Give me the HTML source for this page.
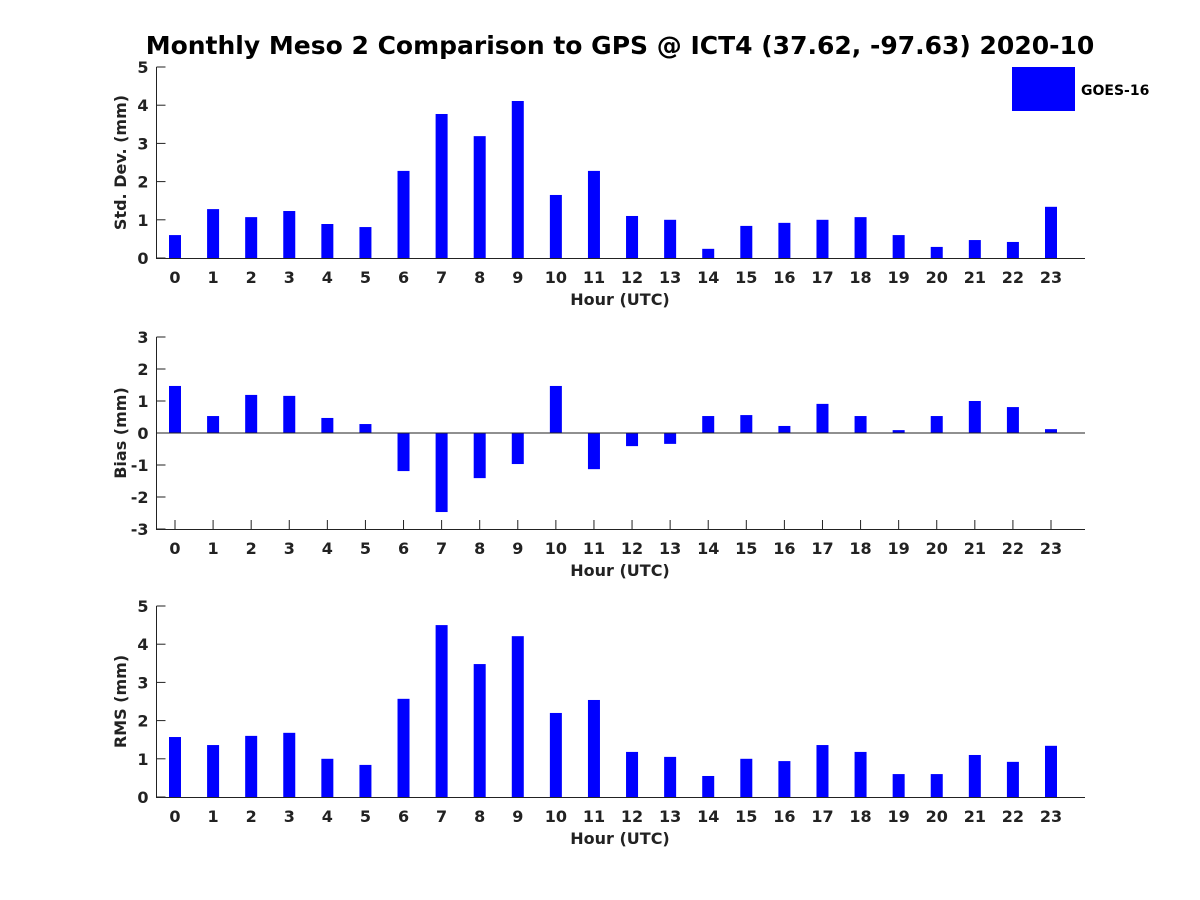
<!DOCTYPE html>
<html><head><meta charset="utf-8"><style>
html,body{margin:0;padding:0;background:#fff;}
svg{display:block;font-family:"DejaVu Sans","Liberation Sans",sans-serif;font-weight:bold;}
</style></head><body>
<svg id="chart" width="1200" height="900" xmlns="http://www.w3.org/2000/svg">
<text x="620" y="54" text-anchor="middle" font-size="25" fill="#000">Monthly Meso 2 Comparison to GPS @ ICT4 (37.62, -97.63) 2020-10</text>
<g id="plots"></g>
<rect x="1012" y="67" width="63" height="44" fill="#0000ff"/>
<text x="1081" y="95" font-size="14" fill="#000">GOES-16</text>
</svg>
<script>
const hours = [0,1,2,3,4,5,6,7,8,9,10,11,12,13,14,15,16,17,18,19,20,21,22,23];
const stdValues = [0.6,1.28,1.07,1.23,0.89,0.81,2.28,3.77,3.19,4.11,1.65,2.28,1.1,1.0,0.24,0.84,0.92,1.0,1.07,0.6,0.29,0.47,0.42,1.34];
const biasValues = [1.47,0.53,1.19,1.16,0.47,0.28,-1.19,-2.47,-1.41,-0.97,1.47,-1.13,-0.41,-0.34,0.53,0.56,0.22,0.91,0.53,0.09,0.53,1.0,0.81,0.12];
const rmsValues = [1.57,1.36,1.6,1.68,1.0,0.84,2.57,4.5,3.48,4.21,2.2,2.54,1.18,1.05,0.55,1.0,0.94,1.36,1.18,0.6,0.6,1.1,0.92,1.34];
const stdTicks = [0,1,2,3,4,5];
const biasTicks = [-3,-2,-1,0,1,2,3];
const rmsTicks = [0,1,2,3,4,5];

const NS = "http://www.w3.org/2000/svg";
const g = document.getElementById('plots');
const X0 = 156.5, X1 = 1085;
function xScale(h){ return 175 + h * (1051 - 175) / 23; }
function mk(tag, attrs){ const e = document.createElementNS(NS, tag); for (const k in attrs) e.setAttribute(k, attrs[k]); g.appendChild(e); return e; }

function panel(name, values, ticks, yMin, yMax, top, bottom, ylabel){
  const yS = v => bottom - (v - yMin) * (bottom - top) / (yMax - yMin);
  const zero = yS(0);
  ticks.forEach(t => {
    const y = yS(t);
    mk('line', {x1: X0, x2: X0 + 9, y1: y, y2: y, stroke: '#222'});
    const tx = mk('text', {x: X0 - 8, y: y + 6, 'text-anchor': 'end', 'font-size': 16, fill: '#222'});
    tx.textContent = t;
    
    
  });
  hours.forEach(h => {
    const x = xScale(h);
    mk('line', {x1: x, x2: x, y1: bottom, y2: bottom - 9, stroke: '#222'});
    const tx = mk('text', {x: x, y: bottom + 25, 'text-anchor': 'middle', 'font-size': 16, fill: '#222'});
    tx.textContent = h;
    
    
  });
  values.forEach((v, i) => {
    const y1 = Math.min(yS(v), zero), y2 = Math.max(yS(v), zero);
    const r = mk('rect', {x: xScale(hours[i]) - 6, y: y1, width: 12, height: y2 - y1, fill: '#0000ff'});
    
    
  });
  if (yMin < 0) {
    const zl = mk('line', {x1: X0, x2: X1, y1: zero, y2: zero, stroke: '#222', 'stroke-width': 1});
    
    
  }
  const ax = mk('path', {d: `M${X0},${top}V${bottom + 0.5}H${X1}`, stroke: '#222', fill: 'none', 'stroke-width': 1});
  
  
  const xl = mk('text', {x: 620, y: bottom + 47, 'text-anchor': 'middle', 'font-size': 16, fill: '#222'});
  xl.textContent = 'Hour (UTC)';
  
  
  const cy = (top + bottom) / 2;
  const yl = mk('text', {x: 126, y: cy, 'text-anchor': 'middle', 'font-size': 16, fill: '#222', transform: `rotate(-90 126 ${cy})`});
  yl.textContent = ylabel;
  
  
}
panel('std', stdValues, stdTicks, 0, 5, 67, 258, 'Std. Dev. (mm)');
panel('bias', biasValues, biasTicks, -3, 3, 337, 529, 'Bias (mm)');
panel('rms', rmsValues, rmsTicks, 0, 5, 606, 797, 'RMS (mm)');
</script>
</body></html>
